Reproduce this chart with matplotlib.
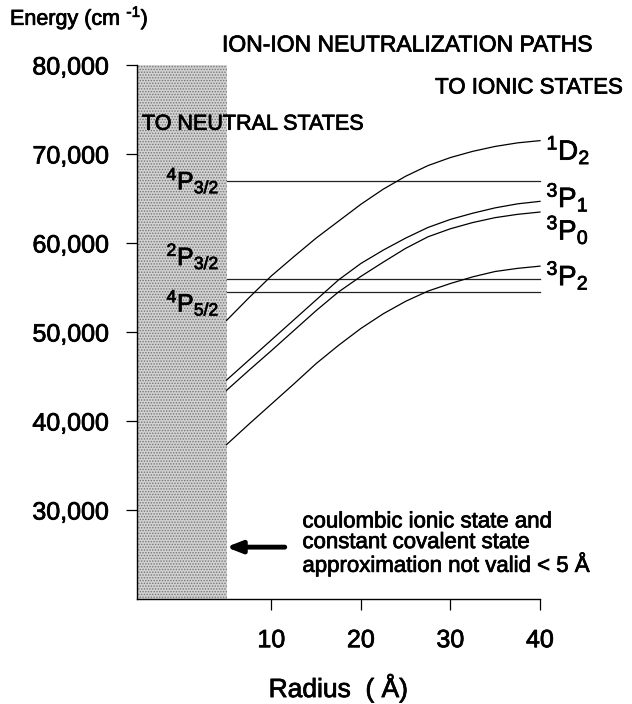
import matplotlib
matplotlib.use("Agg")
import matplotlib.pyplot as plt
import matplotlib.patheffects as pe

plt.rcParams["font.family"] = ["Liberation Sans", "DejaVu Sans"]
plt.rcParams["mathtext.default"] = "regular"
plt.rcParams["hatch.linewidth"] = 0.7

# Ion-pair potential curves (energy in cm^-1 versus radius in Angstrom)
radius = [5, 7.5, 10, 12.5, 15, 17.5, 20, 22.5, 25, 27.5, 30, 32.5, 35, 37.5, 40]
e_1d2 = [51300, 53850, 56300, 58450, 60550, 62450, 64350, 66050, 67500, 68700,
         69600, 70300, 70850, 71250, 71500]
e_3p1 = [44600, 46850, 49100, 51350, 53600, 55850, 57700, 59200, 60550, 61750,
         62650, 63350, 63950, 64400, 64680]
e_3p0 = [43450, 45700, 47900, 50150, 52400, 54500, 56250, 57850, 59400, 60700,
         61600, 62300, 62850, 63220, 63480]
e_3p2 = [37350, 39650, 41900, 44150, 46450, 48500, 50400, 52050, 53450, 54600,
         55450, 56200, 56800, 57150, 57400]
ionic_curves = [e_1d2, e_3p1, e_3p0, e_3p2]
ionic_labels = ["$^{1}$D$_{2}$", "$^{3}$P$_{1}$", "$^{3}$P$_{0}$", "$^{3}$P$_{2}$"]
ionic_label_energy = [70420, 65130, 61470, 56350]

# Constant covalent (neutral) states
neutral_levels = [67000, 56000, 54450]
neutral_labels = ["$^{4}$P$_{3/2}$", "$^{2}$P$_{3/2}$", "$^{4}$P$_{5/2}$"]
neutral_label_energy = [67040, 58540, 53310]

x_ticks = [10, 20, 30, 40]
y_ticks = [30000, 40000, 50000, 60000, 70000, 80000]
r_min, r_valid, r_max = -5, 5, 40

# slightly heavier strokes for all lettering
heavy = [pe.withStroke(linewidth=0.55, foreground="black")]

fig = plt.figure(figsize=(6.32, 7.04), dpi=100)
ax = fig.add_axes([0.2168, 0.1491, 0.6376, 0.7586])
ax.set_xlim(r_min, r_max)
ax.set_ylim(20000, 80000)

# region where the approximation breaks down
ax.axvspan(r_min, r_valid, facecolor="#d2d2d2", edgecolor="#767676",
           hatch="......", lw=0, zorder=0)

for level in neutral_levels:
    ax.plot([r_valid, r_max], [level, level], color="#222222", lw=0.9,
            clip_on=False, zorder=2)

for curve in ionic_curves:
    ax.plot(radius, curve, color="black", lw=0.9, clip_on=False, zorder=3)

for lab, e in zip(neutral_labels, neutral_label_energy):
    ax.text(4.2, e, lab, fontsize=18, ha="right", va="center", zorder=4,
            path_effects=heavy)

for lab, e in zip(ionic_labels, ionic_label_energy):
    ax.text(40.7, e, lab, fontsize=20, ha="left", va="center", clip_on=False,
            path_effects=heavy)

ax.text(-4.45, 73350, "TO NEUTRAL STATES", fontsize=15.5, ha="left",
        va="center", zorder=4, path_effects=heavy)

ax.text(13.47, 26170,
        "coulombic ionic state and\nconstant covalent state\napproximation not valid < 5 Å",
        fontsize=16, ha="left", va="center", linespacing=0.98,
        path_effects=heavy)
ax.annotate("", xy=(4.95, 25830), xytext=(11.5, 25830),
            arrowprops=dict(arrowstyle="-|>,head_length=0.9,head_width=0.35",
                            lw=3.5, color="black", shrinkA=0, shrinkB=0))

for side in ("top", "right"):
    ax.spines[side].set_visible(False)
for side in ("left", "bottom"):
    ax.spines[side].set_linewidth(1.0)

ax.set_xticks(x_ticks)
ax.set_xticklabels([str(t) for t in x_ticks])
ax.set_yticks(y_ticks)
ax.set_yticklabels([f"{t:,}" for t in y_ticks])
ax.tick_params(axis="both", direction="out", length=8, width=0.9, labelsize=18)
ax.tick_params(axis="y", pad=12)
ax.tick_params(axis="x", pad=13)
for lbl in ax.get_xticklabels() + ax.get_yticklabels():
    lbl.set_path_effects(heavy)

ax.set_xlabel("Radius  ( Å)", fontsize=19, path_effects=heavy)
ax.xaxis.set_label_coords(0.5, -0.1667)
ax.xaxis.label.set_va("center")

fig.text(10 / 632, 1 - 18 / 704, "Energy (cm $^{\\text{-}1}$)", fontsize=15.5,
         ha="left", va="center", path_effects=heavy)
fig.text(222 / 632, 1 - 45 / 704, "ION-ION NEUTRALIZATION PATHS", fontsize=16.5,
         ha="left", va="center", path_effects=heavy)
fig.text(623 / 632, 1 - 88 / 704, "TO IONIC STATES", fontsize=16,
         ha="right", va="center", path_effects=heavy)

fig.savefig("out.png", dpi=100, facecolor="white")
